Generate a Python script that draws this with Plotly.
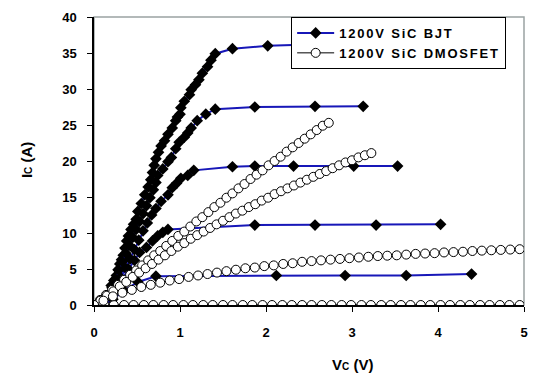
import plotly.graph_objects as go

# ---------------- data ----------------
# 1200V SiC BJT curves (V_C in V, I_C in A)
bjt1_v = [0.10, 0.15, 0.20, 0.23, 0.26, 0.28, 0.30, 0.32, 0.34, 0.36, 0.38, 0.40, 0.43, 0.46, 0.49,
          0.51, 0.55, 0.59, 0.63, 0.66, 0.68, 0.70, 0.72, 0.75, 0.78, 0.82, 0.86, 0.91, 0.95, 0.97,
          1.00, 1.01, 1.05, 1.11, 1.13, 1.18, 1.22, 1.26, 1.32, 1.36, 1.41, 1.61, 2.02, 2.60, 3.10]
bjt1_i = [0.0, 1.0, 2.7, 3.4, 4.1, 4.9, 5.7, 6.3, 6.9, 7.9, 8.9, 9.6, 10.5, 11.2, 11.9,
          13.0, 14.1, 15.3, 16.4, 17.4, 18.4, 19.4, 20.3, 21.2, 22.1, 22.8, 23.7, 24.6, 25.6, 26.1,
          26.5, 27.4, 28.3, 29.2, 29.9, 30.6, 31.3, 32.2, 33.1, 34.0, 34.9, 35.6, 36.0, 36.2, 36.3]

bjt2_v = [0.10, 0.16, 0.21, 0.25, 0.29, 0.33, 0.37, 0.41, 0.45, 0.49, 0.53, 0.57, 0.61, 0.65, 0.69,
          0.72, 0.74, 0.80, 0.86, 0.90, 0.95, 0.99, 1.05, 1.09, 1.13, 1.20, 1.30, 1.41, 1.87, 2.57, 3.13]
bjt2_i = [0.0, 1.2, 2.4, 3.6, 4.8, 6.0, 7.2, 8.3, 9.4, 10.5, 11.6, 12.7, 13.8, 14.9, 16.0,
          17.0, 18.0, 18.9, 19.9, 20.5, 21.7, 22.6, 23.3, 23.9, 24.6, 25.6, 26.5, 27.2, 27.5, 27.6, 27.6]

bjt3_v = [0.10, 0.18, 0.25, 0.31, 0.37, 0.42, 0.47, 0.52, 0.57, 0.62, 0.67, 0.72, 0.78, 0.86, 0.91,
          0.96, 1.01, 1.09, 1.16, 1.61, 1.87, 2.32, 3.02, 3.53]
bjt3_i = [0.0, 1.2, 2.5, 3.8, 5.1, 6.4, 7.7, 9.0, 10.3, 11.4, 12.5, 13.4, 14.4, 15.3, 16.3,
          16.9, 17.6, 18.0, 18.7, 19.2, 19.3, 19.3, 19.3, 19.3]

bjt4_v = [0.10, 0.18, 0.25, 0.32, 0.40, 0.47, 0.53, 0.61, 0.68, 0.74, 0.80, 0.86, 1.87, 2.57, 3.28, 4.03]
bjt4_i = [0.0, 1.0, 2.2, 3.5, 5.0, 6.2, 7.3, 8.0, 8.9, 9.6, 10.1, 10.5, 11.1, 11.1, 11.1, 11.2]

bjt5_v = [0.10, 0.22, 0.35, 0.51, 0.72, 2.12, 2.92, 3.63, 4.39]
bjt5_i = [0.0, 0.8, 2.0, 3.2, 4.0, 4.1, 4.1, 4.1, 4.3]

# 1200V SiC DMOSFET curves
mos0_v = [0.00, 0.12, 0.23, 0.35, 0.46, 0.58, 0.69, 0.81, 0.92, 1.04, 1.15, 1.27, 1.38, 1.50, 1.61,
          1.73, 1.84, 1.96, 2.07, 2.19, 2.30, 2.42, 2.53, 2.65, 2.76, 2.88, 2.99, 3.11, 3.22, 3.34,
          3.45, 3.57, 3.68, 3.80, 3.91, 4.03, 4.14, 4.26, 4.37, 4.49, 4.60, 4.72, 4.83, 4.95]
mos0_i = [0.0] * len(mos0_v)

mosA_v = [0.00, 0.07, 0.14, 0.21, 0.28, 0.35, 0.42, 0.49, 0.56, 0.63, 0.70, 0.77, 0.84, 0.91, 0.98,
          1.05, 1.12, 1.19, 1.26, 1.33, 1.40, 1.47, 1.54, 1.61, 1.68, 1.75, 1.82, 1.89, 1.96, 2.03,
          2.10, 2.17, 2.24, 2.31, 2.38, 2.45, 2.52, 2.59, 2.66, 2.73]
mosA_i = [0.0, 0.7, 1.4, 2.1, 2.8, 3.5, 4.2, 4.8, 5.5, 6.2, 6.9, 7.5, 8.2, 8.9, 9.6,
          10.2, 10.9, 11.6, 12.2, 12.9, 13.6, 14.2, 14.9, 15.5, 16.2, 16.8, 17.5, 18.1, 18.7, 19.4,
          20.0, 20.6, 21.3, 21.9, 22.5, 23.1, 23.7, 24.3, 24.9, 25.3]

mosB_v = [0.000, 0.075, 0.150, 0.225, 0.300, 0.375, 0.450, 0.525, 0.600, 0.675, 0.750, 0.825, 0.900,
          0.975, 1.050, 1.125, 1.200, 1.275, 1.350, 1.425, 1.500, 1.575, 1.650, 1.725, 1.800, 1.875,
          1.950, 2.025, 2.100, 2.175, 2.250, 2.325, 2.400, 2.475, 2.550, 2.625, 2.700, 2.775, 2.850,
          2.925, 3.000, 3.075, 3.150, 3.225]
mosB_i = [0.0, 0.6, 1.3, 1.9, 2.6, 3.2, 3.9, 4.5, 5.1, 5.7, 6.3, 6.9, 7.5,
          8.1, 8.6, 9.2, 9.7, 10.2, 10.7, 11.2, 11.7, 12.2, 12.7, 13.1, 13.6, 14.0,
          14.5, 14.9, 15.4, 15.8, 16.2, 16.6, 17.0, 17.4, 17.8, 18.2, 18.6, 19.0, 19.4,
          19.8, 20.1, 20.5, 20.8, 21.1]

mosC_v = [0.00, 0.11, 0.22, 0.33, 0.44, 0.55, 0.66, 0.77, 0.88, 0.99, 1.10, 1.21, 1.32, 1.43, 1.54,
          1.65, 1.76, 1.87, 1.98, 2.09, 2.20, 2.31, 2.42, 2.53, 2.64, 2.75, 2.86, 2.97, 3.08, 3.19,
          3.30, 3.41, 3.52, 3.63, 3.74, 3.85, 3.96, 4.07, 4.18, 4.29, 4.40, 4.51, 4.62, 4.73, 4.84, 4.95]
mosC_i = [0.0, 0.6, 1.2, 1.7, 2.1, 2.5, 2.8, 3.1, 3.4, 3.6, 3.9, 4.1, 4.3, 4.5, 4.7,
          4.9, 5.1, 5.2, 5.4, 5.5, 5.7, 5.8, 6.0, 6.1, 6.2, 6.3, 6.4, 6.5, 6.6, 6.7,
          6.8, 6.85, 6.9, 7.0, 7.1, 7.15, 7.2, 7.3, 7.35, 7.4, 7.5, 7.55, 7.6, 7.65, 7.7, 7.75]

x_ticks = [0, 1, 2, 3, 4, 5]
y_ticks = [0, 5, 10, 15, 20, 25, 30, 35, 40]
bjt_name = "1200V SiC BJT"
mos_name = "1200V SiC DMOSFET"

# ---------------- figure ----------------
FONT = "Liberation Sans, Arial, sans-serif"
BLUE = "#1717B8"
LEG = '<span style="letter-spacing:1.8px"><b>%s</b></span>'

fig = go.Figure()

bjt_curves = [(bjt1_v, bjt1_i), (bjt2_v, bjt2_i), (bjt3_v, bjt3_i), (bjt4_v, bjt4_i), (bjt5_v, bjt5_i)]
for k, (v, i) in enumerate(bjt_curves):
    fig.add_trace(go.Scatter(
        x=v, y=i, mode="lines+markers", name=LEG % bjt_name,
        showlegend=(k == 0), legendgroup="bjt",
        line=dict(color=BLUE, width=2),
        marker=dict(symbol="diamond", size=9, color="black", line=dict(width=0)),
    ))

mos_curves = [(mos0_v, mos0_i), (mosA_v, mosA_i), (mosB_v, mosB_i), (mosC_v, mosC_i)]
for k, (v, i) in enumerate(mos_curves):
    fig.add_trace(go.Scatter(
        x=v, y=i, mode="lines+markers", name=LEG % mos_name,
        showlegend=(k == 0), legendgroup="mos",
        line=dict(color="black", width=1),
        marker=dict(symbol="circle", size=9, color="white", line=dict(color="black", width=1)),
    ))

axis_common = dict(
    showgrid=False, zeroline=False, showline=True, linecolor="black", linewidth=1.5,
    ticks="outside", ticklen=5, tickcolor="black", ticklabeloverflow="allow",
    tickfont=dict(family=FONT, size=13, color="black"),
)
fig.update_xaxes(range=[0, 5], tickvals=x_ticks, ticktext=["<b>%d</b>" % t for t in x_ticks],
                 ticklabelstandoff=10, **axis_common)
fig.update_yaxes(range=[0, 40], tickvals=y_ticks, ticktext=["<b>%d</b>" % t for t in y_ticks],
                 ticklabelstandoff=8, **axis_common)

# grey plot-area frame (top and right)
fig.add_shape(type="rect", xref="paper", yref="paper", x0=0, y0=0, x1=1, y1=1,
              line=dict(color="#9AA3A3", width=1.5), layer="below")

fig.add_annotation(text='<b>V<span style="font-size:10px">C</span> (V)</b>', xref="paper", yref="paper",
                   x=0.60, y=-0.205, showarrow=False,
                   font=dict(family=FONT, size=15, color="black"),
                   xanchor="center", yanchor="middle")
fig.add_annotation(text='<b>I<span style="font-size:10px">C</span> (A)</b>', xref="paper", yref="paper",
                   x=-0.157, y=0.505, showarrow=False, textangle=-90,
                   font=dict(family=FONT, size=15, color="black"),
                   xanchor="center", yanchor="middle")

fig.update_layout(
    width=522, height=369,
    margin=dict(l=86, r=2, t=4, b=72),
    paper_bgcolor="white", plot_bgcolor="white",
    showlegend=True,
    legend=dict(x=0.4585, y=1.0, xanchor="left", yanchor="top",
                bgcolor="white", bordercolor="black", borderwidth=1,
                font=dict(family=FONT, size=13, color="black"),
                tracegroupgap=0, itemwidth=37),
)

fig.write_html("out.html")
